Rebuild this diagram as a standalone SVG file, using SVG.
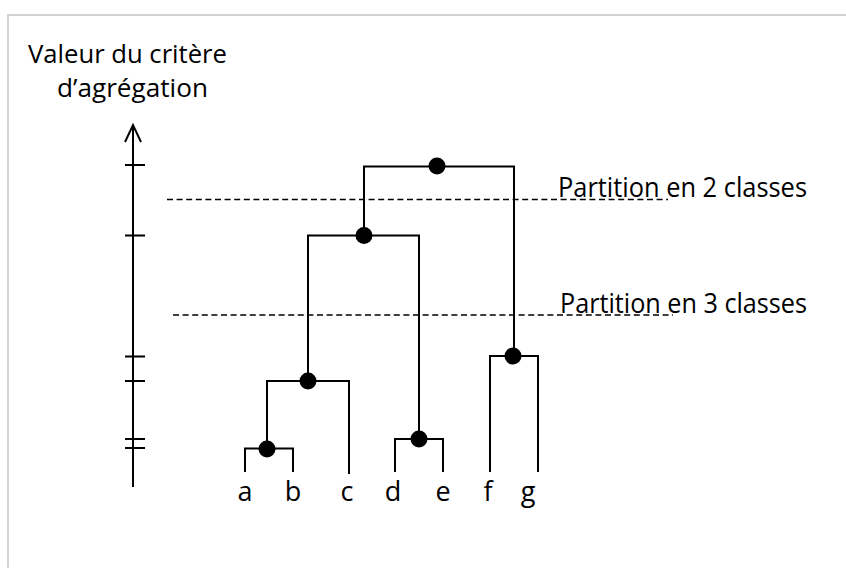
<svg xmlns="http://www.w3.org/2000/svg" width="846" height="568" viewBox="0 0 846 568">
<style>
.ln{stroke:#000;stroke-width:2;fill:none}
.dash{stroke:#000;stroke-width:1.5;stroke-dasharray:6 3.6;fill:none}
.dot{fill:#000}
text{font-family:"Open Sans","Liberation Sans",sans-serif;font-size:27px;fill:#000}
.tt{font-size:26px}
</style>
<rect x="8" y="15" width="850" height="570" fill="#fff" stroke="#d3d3d3" stroke-width="2"/>
<g id="title">
<text class="tt" x="28" y="63" textLength="199" lengthAdjust="spacingAndGlyphs">Valeur du critère</text>
<text class="tt" x="57" y="97" textLength="151" lengthAdjust="spacingAndGlyphs">d’agrégation</text>
</g>
<g id="axis">
<path class="ln" d="M133,487 V125 M125,142 L133,125 L141,142"/>
<path class="ln" d="M125,165H145 M125,235.5H145 M125,356.5H145 M125,381H145 M125,439H145 M125,448H145"/>
</g>
<g id="partitions">
<line class="dash" x1="167" y1="199.5" x2="668" y2="199.5"/>
<line class="dash" x1="173" y1="315" x2="673" y2="315"/>
<text x="558" y="197" textLength="249" lengthAdjust="spacingAndGlyphs">Partition en 2 classes</text>
<text x="560" y="313" textLength="247" lengthAdjust="spacingAndGlyphs">Partition en 3 classes</text>
</g>
<g id="connectors">
<path class="ln" d="M364,235.5 V166.5 H514 V356"/>
<path class="ln" d="M308,381 V235.5 H419 V439"/>
<path class="ln" d="M267,448.5 V381 H349 V474"/>
<path class="ln" d="M245,472 V448.5 H293 V472"/>
<path class="ln" d="M395,472 V439 H443 V472"/>
<path class="ln" d="M490,472 V356 H538 V472"/>
</g>
<g id="node-root"><circle class="dot" cx="437" cy="166" r="8.5"/></g>
<g id="node-abcde"><circle class="dot" cx="364" cy="235.5" r="8.5"/></g>
<g id="node-abc"><circle class="dot" cx="308" cy="381" r="8.5"/></g>
<g id="node-ab"><circle class="dot" cx="267" cy="449" r="8.5"/></g>
<g id="node-de"><circle class="dot" cx="419" cy="439" r="8.5"/></g>
<g id="node-fg"><circle class="dot" cx="513" cy="356" r="8.5"/></g>
<g id="leaves" text-anchor="middle">
<text x="245" y="501">a</text>
<text x="293" y="501">b</text>
<text x="347" y="501">c</text>
<text x="393" y="501">d</text>
<text x="443" y="501">e</text>
<text x="488" y="501">f</text>
<text x="528" y="501">g</text>
</g>
</svg>
